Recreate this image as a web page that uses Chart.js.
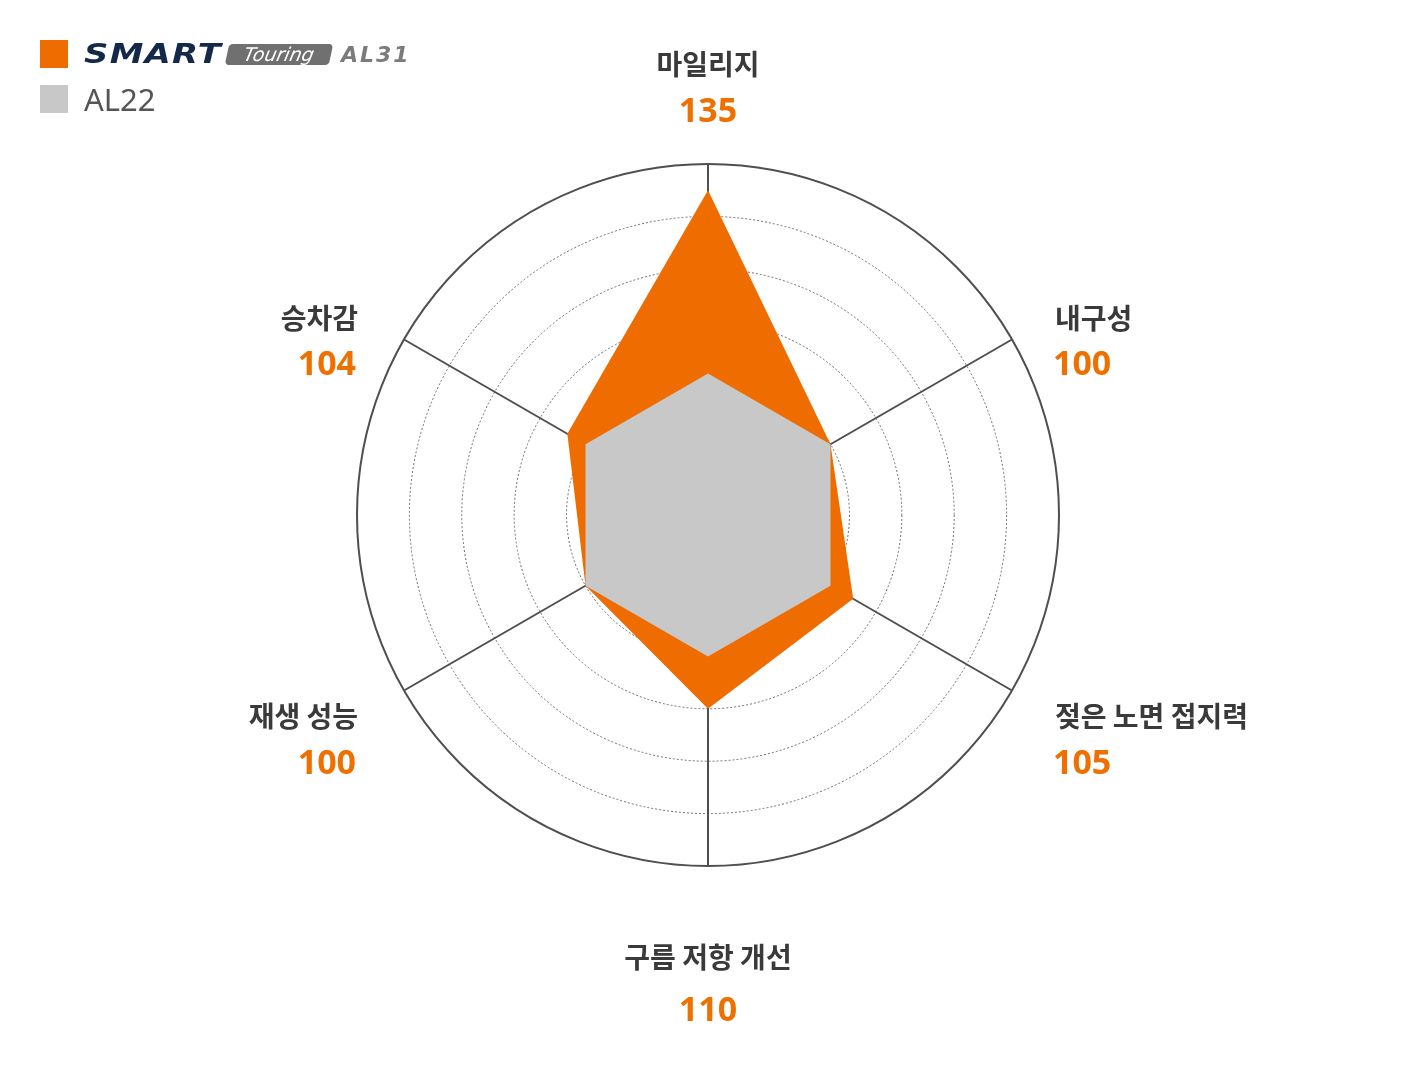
<!DOCTYPE html>
<html lang="ko">
<head>
<meta charset="utf-8">
<title>SMART Touring AL31 vs AL22</title>
<script src="https://cdn.jsdelivr.net/npm/chart.js@4.4.1/dist/chart.umd.min.js"></script>
<style>
  html, body { margin: 0; padding: 0; background: #fff; }
  #wrap { position: relative; width: 1416px; height: 1072px; overflow: hidden; }
  #radar { position: absolute; left: 0; top: 0; }
  .legend { position: absolute; left: 40px; top: 40px; }
  .legend .row { display: flex; align-items: center; height: 28px; margin-bottom: 17px; white-space: nowrap; }
  .legend .box { width: 28px; height: 28px; margin-right: 16px; flex: none; }
  .smart {
    display: inline-block; width: 143px; transform: scaleX(1.3); transform-origin: left center;
    font-family: "DejaVu Sans", sans-serif; font-weight: bold; font-style: italic;
    font-size: 26px; color: #14284a; letter-spacing: 1px; line-height: 28px;
  }
  .touring {
    display: inline-block; width: 104px; height: 21px; line-height: 20px; text-align: center;
    background: #707070; color: #fff; border-radius: 4px; transform: skewX(-12deg);
    font-family: "DejaVu Sans", sans-serif; font-style: italic; font-size: 19px;
  }
  .al31 {
    margin-left: 10px; font-family: "DejaVu Sans", sans-serif; font-weight: bold; font-style: italic;
    font-size: 22px; color: #7b7b7b; letter-spacing: 2px;
  }
  .al22 { font-family: "Noto Sans", sans-serif; font-size: 31px; color: #555; }
</style>
</head>
<body>
<div id="wrap">
  <canvas id="radar" width="1416" height="1072"></canvas>
  <div class="legend">
    <div class="row">
      <div class="box" style="background:#ee6c00"></div>
      <span class="smart">SMART</span><span class="touring">Touring</span><span class="al31">AL31</span>
    </div>
    <div class="row">
      <div class="box" style="background:#c8c8c8"></div>
      <span class="al22">AL22</span>
    </div>
  </div>
</div>
<script>
  // categories, clockwise from the top
  const categories = ["마일리지", "내구성", "젖은 노면 접지력", "구름 저항 개선", "재생 성능", "승차감"];
  const al31Values = [135, 100, 105, 110, 100, 104];
  const al22Values = [100, 100, 100, 100, 100, 100];
  const scaleMin = 73;
  const scaleMax = 140;
  const tickStep = 10;
  const firstRing = 100;

  const orange = "#ee6c00";
  const gray = "#c8c8c8";

  // category name + AL31 value around the outer circle
  const outerLabels = {
    id: "outerLabels",
    afterDraw(chart) {
      const scale = chart.scales.r;
      const ctx = chart.ctx;
      const cx = scale.xCenter;
      ctx.save();
      categories.forEach((name, i) => {
        const p = scale.getPointPosition(i, scale.drawingArea);
        let x = p.x, align = "center", nameY, valueY, valueX = p.x;
        if (Math.abs(p.x - cx) < 1) {
          if (p.y < scale.yCenter) { nameY = p.y - 89; valueY = p.y - 42; }
          else { nameY = p.y + 102; valueY = p.y + 155; }
        } else {
          if (p.x > cx) { x = p.x + 43; valueX = x - 2; align = "left"; }
          else { x = p.x - 46; valueX = x - 2; align = "right"; }
          if (p.y < scale.yCenter) { nameY = p.y - 11; valueY = p.y + 35; }
          else { nameY = p.y + 36; valueY = p.y + 83; }
        }
        ctx.textAlign = align;
        ctx.textBaseline = "alphabetic";
        ctx.fillStyle = "#3a3a3a";
        ctx.font = 'bold 28px "Noto Sans CJK KR", "Noto Sans", sans-serif';
        ctx.fillText(name, x, nameY);
        ctx.fillStyle = "#ed7000";
        ctx.font = 'bold 34px "Noto Sans", "Noto Sans CJK KR", sans-serif';
        ctx.fillText(String(al31Values[i]), valueX, valueY);
      });
      ctx.restore();
    }
  };

  new Chart(document.getElementById("radar"), {
    type: "radar",
    data: {
      labels: categories,
      datasets: [
        {
          label: "SMART Touring AL31",
          data: al31Values,
          backgroundColor: orange,
          borderWidth: 0,
          pointRadius: 0,
          fill: true,
          order: 2,
        },
        {
          label: "AL22",
          data: al22Values,
          backgroundColor: gray,
          borderWidth: 0,
          pointRadius: 0,
          fill: true,
          order: 1,
        },
      ],
    },
    options: {
      responsive: false,
      animation: false,
      layout: { padding: { top: 164, bottom: 206, left: 357, right: 357 } },
      plugins: {
        legend: { display: false },
        tooltip: { enabled: false },
      },
      scales: {
        r: {
          z: 1,
          min: scaleMin,
          max: scaleMax,
          ticks: { display: false, stepSize: tickStep },
          pointLabels: { display: false },
          angleLines: { color: "#4f4f4f", lineWidth: 2 },
          grid: {
            circular: true,
            color: (c) => (c.tick && c.tick.value >= firstRing ? (c.tick.value === scaleMax ? "#4f4f4f" : "#6e6e6e") : "transparent"),
            lineWidth: (c) => (c.tick && c.tick.value === scaleMax ? 2 : 1),
          },
          border: {
            dash: (c) => (c.tick && c.tick.value === scaleMax ? [] : [2, 2]),
          },
        },
      },
    },
    plugins: [outerLabels],
  });
</script>
</body>
</html>
